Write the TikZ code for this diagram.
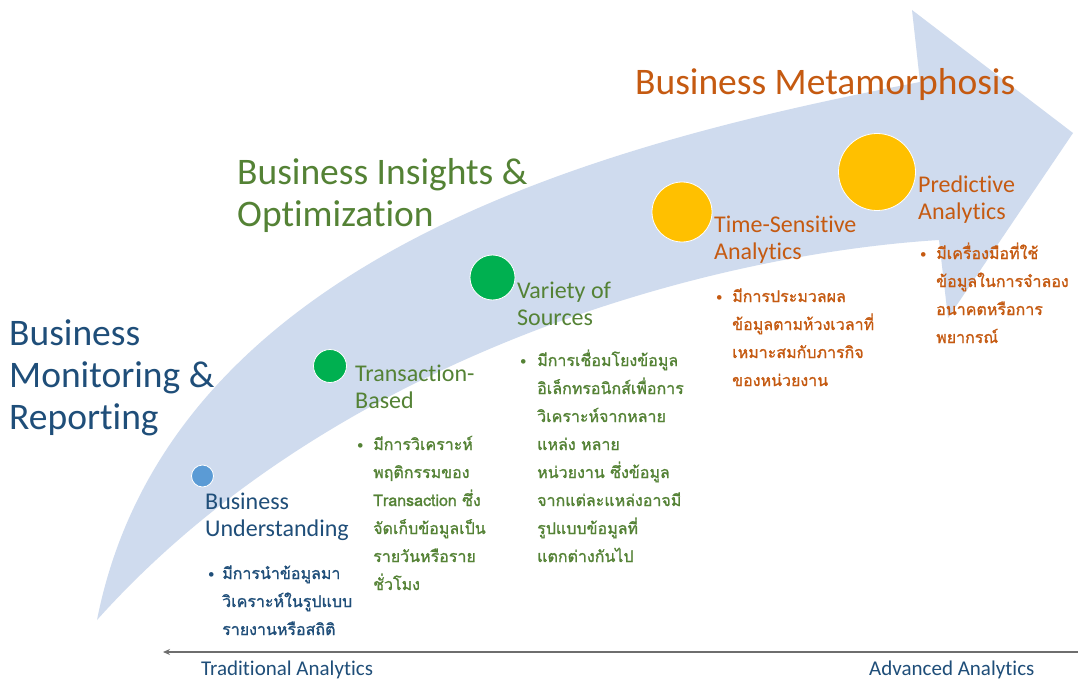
\documentclass[tikz,border=0pt]{standalone}
\usepackage{fontspec}
\setmainfont{Carlito}[Ligatures=NoCommon]
\newfontfamily\thaifont[Script=Thai,FakeBold=1.2]{Loma}
\usetikzlibrary{arrows.meta}
\definecolor{arrowblue}{HTML}{CFDBEE}
\definecolor{txtorange}{HTML}{C55A11}
\definecolor{txtgreen}{HTML}{548235}
\definecolor{txtblue}{HTML}{1F4E79}
\definecolor{dotblue}{HTML}{5B9BD5}
\definecolor{dotgreen}{HTML}{00B050}
\definecolor{dotyellow}{HTML}{FFC000}
\definecolor{axisgray}{HTML}{6E6E6E}
\tikzset{
  title/.style={anchor=base west, inner sep=0pt, align=left, font=\fontsize{37.5}{42}\selectfont},
  stage/.style={anchor=base west, inner sep=0pt, align=left, font=\fontsize{24}{27}\selectfont},
  bulletmark/.style={anchor=base west, inner sep=0pt, font=\fontsize{13}{28}\selectfont},
  bullettext/.style={anchor=base west, inner sep=0pt, align=left, font=\thaifont\fontsize{16}{28}\selectfont},
  stagedot/.style={circle, draw=white, line width=0.8pt, inner sep=0pt},
  axislabel/.style={anchor=base west, inner sep=0pt, text=txtblue, font=\fontsize{21}{25}\selectfont},
}
\begin{document}
\begin{tikzpicture}[x=1pt,y=-1pt]
\useasboundingbox (0,0) rectangle (1078,679);
\fill[white] (0,0) rectangle (1078,679);
% big curved arrow
\fill[arrowblue] (97,620) .. controls (170,250) and (620,140) .. (920,82)
  -- (912,10) -- (1073,133) -- (948,318) -- (939,240)
  .. controls (700,255) and (330,360) .. (97,620) -- cycle;
% titles (anchor = baseline of the last line)
\node[title, text=txtorange] (tMeta) at (635,95) {Business Metamorphosis};
\node[title, text=txtgreen] (tIns) at (237,226) {Business Insights \&\\Optimization};
\node[title, text=txtblue] (tMon) at (9,429) {Business\\Monitoring \&\\Reporting};
% stage dots
\node[stagedot, fill=dotblue, minimum size=22pt] (d1) at (202.5,476) {};
\node[stagedot, fill=dotgreen, minimum size=33pt] (d2) at (330,366) {};
\node[stagedot, fill=dotgreen, minimum size=45pt] (d3) at (492.5,277.5) {};
\node[stagedot, fill=dotyellow, minimum size=60pt] (d4) at (682,212) {};
\node[stagedot, fill=dotyellow, minimum size=77pt] (d5) at (877,172) {};
% stage labels
\node[stage, text=txtblue] (s1) at (205,536) {Business\\Understanding};
\node[stage, text=txtgreen] (s2) at (355,408) {Transaction-\\Based};
\node[stage, text=txtgreen] (s3) at (517,325) {Variety of\\Sources};
\node[stage, text=txtorange] (s4) at (714,259) {Time-Sensitive\\Analytics};
\node[stage, text=txtorange] (s5) at (918,219) {Predictive\\Analytics};
% bullets
\node[bulletmark, text=txtblue] (b1m) at (208,578) {•};
\node[bullettext, text=txtblue] (b1t) at (222,635) {มีการนำข้อมูลมา\\วิเคราะห์ในรูปแบบ\\รายงานหรือสถิติ};
\node[bulletmark, text=txtgreen] (b2m) at (357,449) {•};
\node[bullettext, text=txtgreen] (b2t) at (373,590) {มีการวิเคราะห์\\พฤติกรรมของ\\Transaction ซึ่ง\\จัดเก็บข้อมูลเป็น\\รายวันหรือราย\\ชั่วโมง};
\node[bulletmark, text=txtgreen] (b3m) at (520,365) {•};
\node[bullettext, text=txtgreen] (b3t) at (537,562) {มีการเชื่อมโยงข้อมูล\\อิเล็กทรอนิกส์เพื่อการ\\วิเคราะห์จากหลาย\\แหล่ง หลาย\\หน่วยงาน ซึ่งข้อมูล\\จากแต่ละแหล่งอาจมี\\รูปแบบข้อมูลที่\\แตกต่างกันไป};
\node[bulletmark, text=txtorange] (b4m) at (716,301) {•};
\node[bullettext, text=txtorange] (b4t) at (732,386) {มีการประมวลผล\\ข้อมูลตามห้วงเวลาที่\\เหมาะสมกับภารกิจ\\ของหน่วยงาน};
\node[bulletmark, text=txtorange] (b5m) at (920,258) {•};
\node[bullettext, text=txtorange] (b5t) at (936,343) {มีเครื่องมือที่ใช้\\ข้อมูลในการจำลอง\\อนาคตหรือการ\\พยากรณ์};
% bottom axis
\coordinate (axR) at (1078,652);
\coordinate (axL) at (163,652);
\draw[axisgray, line width=1.5pt, -{Stealth[length=7pt,width=6pt]}] (axR) -- (axL);
\node[axislabel] (aTrad) at (201,675) {Traditional Analytics};
\node[axislabel] (aAdv) at (869,675) {Advanced Analytics};
\end{tikzpicture}
\end{document}
